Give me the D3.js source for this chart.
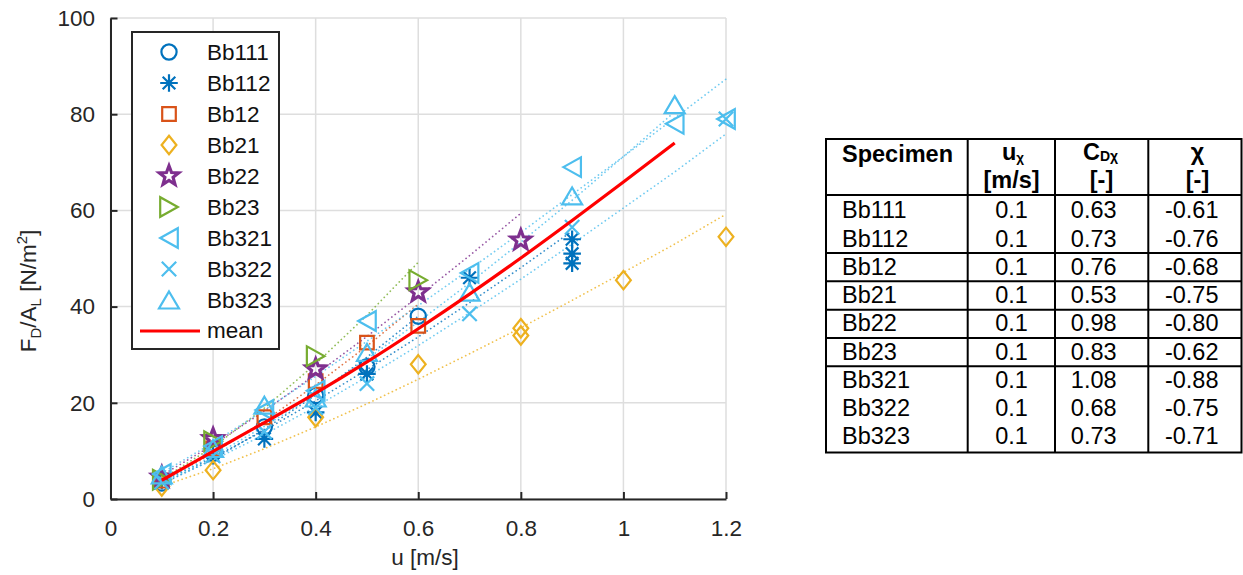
<!DOCTYPE html>
<html><head><meta charset="utf-8">
<script src="https://cdn.jsdelivr.net/npm/d3@7"></script>
<style>
html,body{margin:0;padding:0;background:#fff;}
svg{display:block;}
text{font-family:"Liberation Sans",Arial,Helvetica,sans-serif;}
</style></head><body>
<svg id="c" width="1243" height="575"></svg>
<script>
// ---------- data ----------
const xTicks = [0, 0.2, 0.4, 0.6, 0.8, 1, 1.2];
const yTicks = [0, 20, 40, 60, 80, 100];
const specimens = ["Bb111","Bb112","Bb12","Bb21","Bb22","Bb23","Bb321","Bb322","Bb323"];

// measured points (u [m/s], F_D/A_L [N/m2])
const bb111U = [0.1,0.2,0.3,0.4,0.5,0.6];
const bb111V = [3.3,9.5,15,21.5,27.5,38];
const bb112U = [0.1,0.2,0.3,0.4,0.5,0.7,0.9,0.9,0.9];
const bb112V = [3.8,9,12.5,18,26,46,54,51,49];
const bb12U  = [0.1,0.2,0.3,0.4,0.5,0.6];
const bb12V  = [3.8,10.5,17,24.5,32.5,36];
const bb21U  = [0.1,0.2,0.4,0.6,0.8,0.8,1.0,1.2];
const bb21V  = [2.6,6,17,28,35.5,34,45.5,54.5];
const bb22U  = [0.1,0.2,0.4,0.6,0.8];
const bb22V  = [4.5,12.5,27,43,53.8];
const bb23U  = [0.1,0.2,0.4,0.6];
const bb23V  = [4,12,29.7,45.5];
const bb321U = [0.1,0.2,0.3,0.4,0.5,0.7,0.9,1.1,1.2];
const bb321V = [5.2,11,18.5,22.5,37,47,69,78,79];
const bb322U = [0.1,0.2,0.3,0.4,0.5,0.7,0.9,1.2];
const bb322V = [3.5,9,14,19,24,38.5,56.5,79];
const bb323U = [0.1,0.2,0.3,0.4,0.5,0.7,0.9,1.1];
const bb323V = [5,10.5,19.5,21,30.5,43,63,82];

// dotted fitted curves, values read at u = 0.1, 0.2, ... (as far as drawn)
const fitU = [0.1,0.2,0.3,0.4,0.5,0.6,0.7,0.8,0.9,1.0,1.1,1.2];
const fit111 = [3.15,8.26,14.5,21.6,29.5,38.0];
const fit112 = [3.65,8.62,14.25,20.4,26.9,33.7,40.8,48.1,55.7];
const fit12  = [3.8,9.49,16.2,23.7,31.8,40.5];
const fit21  = [2.65,6.30,10.46,14.99,19.8,24.9,30.2,35.6,41.3,47.1,53.0,59.2];
const fit22  = [4.9,11.26,18.3,25.9,33.8,42.1,50.6,59.4];
const fit23  = [4.15,10.8,18.9,28.1,38.2,49.2];
const fit321 = [5.4,11.7,18.5,25.5,32.8,40.2,47.7,55.4,63.3,71.2,79.2,87.3];
const fit322 = [3.4,8.09,13.4,19.2,25.4,31.9,38.7,45.7,53.0,60.5,68.0,75.9];
const fit323 = [3.65,8.92,15.1,21.8,29.1,36.8,44.9,53.4,62.1,71.2,80.5];

// mean curve
const meanU = [0.1,0.2,0.3,0.4,0.5,0.6,0.7,0.8,0.9,1.0,1.1];
const meanV = [3.9,9.9,15.9,22.0,28.5,35.4,42.6,50.1,57.9,65.9,74];

// table
const tableUchi = [0.1,0.1,0.1,0.1,0.1,0.1,0.1,0.1,0.1];
const tableCD   = [0.63,0.73,0.76,0.53,0.98,0.83,1.08,0.68,0.73];
const tableChi  = [-0.61,-0.76,-0.68,-0.75,-0.80,-0.62,-0.88,-0.75,-0.71];
const tableGroupSizes = [2,1,1,1,1,3];

// ---------- styles ----------
const markers = ["circle","asterisk","square","diamond","star","triRight","triLeft","cross","triUp"];
const colors = ["#0072BD","#0072BD","#D95319","#EDB120","#7E2F8E","#77AC30","#4DBEEE","#4DBEEE","#4DBEEE"];
const seriesU = [bb111U,bb112U,bb12U,bb21U,bb22U,bb23U,bb321U,bb322U,bb323U];
const seriesV = [bb111V,bb112V,bb12V,bb21V,bb22V,bb23V,bb321V,bb322V,bb323V];
const fits = [fit111,fit112,fit12,fit21,fit22,fit23,fit321,fit322,fit323];

const svg = d3.select("#c");
const xS = d3.scaleLinear().domain([0,1.2]).range([110.5,726]);
const yS = d3.scaleLinear().domain([0,100]).range([499,18]);
const axisCol = "#262626";
const plotFont = "22.5px";

function starPath(R, r){
  let p = "";
  for (let i=0;i<10;i++){
    const a = -Math.PI/2 + i*Math.PI/5;
    const rr = i%2===0 ? R : r;
    p += (i===0?"M":"L") + (rr*Math.cos(a)).toFixed(2) + "," + (rr*Math.sin(a)).toFixed(2);
  }
  return p + "Z";
}
const markerPaths = {
  square: "M-6.8,-6.8L6.8,-6.8L6.8,6.8L-6.8,6.8Z",
  diamond: "M0,-9.2L7.4,0L0,9.2L-7.4,0Z",
  star: starPath(10.2,4.3),
  triRight: "M8.8,0L-8.8,-9.8L-8.8,9.8Z",
  triLeft: "M-8.8,0L8.8,-9.8L8.8,9.8Z",
  triUp: "M0,-8.5L10,8.5L-10,8.5Z",
  cross: "M-7.2,-7.2L7.2,7.2M-7.2,7.2L7.2,-7.2",
  asterisk: "M0,-8.8L0,8.8M-8.8,0L8.8,0M-6.3,-6.3L6.3,6.3M-6.3,6.3L6.3,-6.3"
};
function drawMarker(g, type, cx, cy, color){
  if (type === "circle"){
    g.append("circle").attr("cx",cx).attr("cy",cy).attr("r",7.6)
      .attr("fill","none").attr("stroke",color).attr("stroke-width",2.2);
  } else {
    g.append("path").attr("d",markerPaths[type]).attr("transform",`translate(${cx},${cy})`)
      .attr("fill","none").attr("stroke",color).attr("stroke-width",type==="star"?3.2:2.2)
      .attr("stroke-linejoin","miter");
  }
}

// ---------- grid ----------
const grid = svg.append("g");
xTicks.forEach(t => grid.append("line").attr("x1",xS(t)).attr("x2",xS(t)).attr("y1",yS(0)).attr("y2",yS(100))
  .attr("stroke","#dedede").attr("stroke-width",1.5));
yTicks.forEach(t => grid.append("line").attr("x1",xS(0)).attr("x2",xS(1.2)).attr("y1",yS(t)).attr("y2",yS(t))
  .attr("stroke","#dedede").attr("stroke-width",1.5));

// ---------- fits (dotted) ----------
const line = d3.line().x(d=>xS(d[0])).y(d=>yS(d[1]));
const fitG = svg.append("g");
fits.forEach((f,i) => {
  fitG.append("path").attr("d", line(f.map((v,j)=>[fitU[j],v])))
    .attr("fill","none").attr("stroke",colors[i]).attr("stroke-width",1.7)
    .attr("stroke-dasharray","0.1,4.2").attr("stroke-linecap","round").attr("opacity",0.8);
});

// ---------- markers ----------
const mG = svg.append("g");
seriesU.forEach((us,i) => {
  us.forEach((u,j) => drawMarker(mG, markers[i], xS(u), yS(seriesV[i][j]), colors[i]));
});

// ---------- mean ----------
svg.append("path").attr("d", line.curve(d3.curveMonotoneX)(meanU.map((u,j)=>[u,meanV[j]])))
  .attr("fill","none").attr("stroke","#FF0000").attr("stroke-width",3.2);
line.curve(d3.curveLinear);

// ---------- axes ----------
const fmt = d => String(+d.toFixed(1));
const xAx = svg.append("g").attr("transform",`translate(0,${yS(0)})`)
  .call(d3.axisBottom(xS).tickValues(xTicks).tickFormat(fmt).tickSizeInner(-7).tickSizeOuter(0).tickPadding(21));
const yAx = svg.append("g").attr("transform",`translate(${xS(0)},0)`)
  .call(d3.axisLeft(yS).tickValues(yTicks).tickFormat(d=>String(d)).tickSizeInner(-7).tickSizeOuter(0).tickPadding(15.5));
[xAx,yAx].forEach(a => {
  a.select(".domain").attr("stroke",axisCol).attr("stroke-width",2);
  a.selectAll(".tick line").attr("stroke",axisCol).attr("stroke-width",2);
  a.selectAll(".tick text").attr("fill",axisCol).style("font-size",plotFont)
    .style("font-family","'Liberation Sans',Arial,sans-serif");
});

// axis titles
svg.append("text").attr("x",425).attr("y",565).attr("text-anchor","middle")
  .attr("fill",axisCol).style("font-size",plotFont).text("u [m/s]");
const yt = svg.append("text").attr("transform","translate(36,291) rotate(-90)")
  .attr("text-anchor","middle").attr("fill",axisCol).style("font-size",plotFont);
yt.append("tspan").text("F");
yt.append("tspan").attr("dy",5).style("font-size","15px").text("D");
yt.append("tspan").attr("dy",-5).text("/A");
yt.append("tspan").attr("dy",5).style("font-size","15px").text("L");
yt.append("tspan").attr("dy",-5).text(" [N/m");
yt.append("tspan").attr("dy",-9).style("font-size","15px").text("2");
yt.append("tspan").attr("dy",9).text("]");

// ---------- legend ----------
const lg = svg.append("g");
lg.append("rect").attr("x",132).attr("y",32).attr("width",147).attr("height",317)
  .attr("fill","#fff").attr("stroke",axisCol).attr("stroke-width",2);
specimens.forEach((s,i) => {
  const cy = 52 + i*31;
  drawMarker(lg, markers[i], 169, cy, colors[i]);
  lg.append("text").attr("x",207).attr("y",cy).attr("dy","0.36em").attr("fill","#111")
    .style("font-size",plotFont).text(s);
});
{
  const cy = 52 + 9*31;
  lg.append("line").attr("x1",140).attr("x2",200).attr("y1",cy).attr("y2",cy)
    .attr("stroke","#FF0000").attr("stroke-width",3.2);
  lg.append("text").attr("x",207).attr("y",cy).attr("dy","0.30em").attr("fill","#111")
    .style("font-size",plotFont).text("mean");
}

// ---------- table ----------
const tb = svg.append("g");
const tL = 826, tR = 1241.5, tT = 139, tB = 452.5, hB = 195;
const colX = [tL, 967.7, 1055, 1148.3, tR];
const rowPitch = 28.25, firstBase = 218.3;
const lineW = 2;
tb.append("rect").attr("x",tL).attr("y",tT).attr("width",tR-tL).attr("height",tB-tT)
  .attr("fill","none").attr("stroke","#000").attr("stroke-width",lineW);
colX.slice(1,4).forEach(x => tb.append("line").attr("x1",x).attr("x2",x).attr("y1",tT).attr("y2",tB)
  .attr("stroke","#000").attr("stroke-width",lineW));
tb.append("line").attr("x1",tL).attr("x2",tR).attr("y1",hB).attr("y2",hB).attr("stroke","#000").attr("stroke-width",lineW);
let acc = 0;
tableGroupSizes.slice(0,-1).forEach(n => {
  acc += n;
  const yy = hB + acc*rowPitch + 1.5 + (acc-1)*0.05;
  tb.append("line").attr("x1",tL).attr("x2",tR).attr("y1",yy).attr("y2",yy).attr("stroke","#000").attr("stroke-width",lineW);
});
const tfs = "23.5px";
// header
tb.append("text").attr("x",842).attr("y",161.5).attr("font-weight","bold").style("font-size",tfs).attr("fill","#000").text("Specimen");
const h2 = tb.append("text").attr("x",1013).attr("y",160).attr("text-anchor","middle").attr("font-weight","bold").style("font-size",tfs).attr("fill","#000");
h2.append("tspan").text("u");
h2.append("tspan").attr("dy",2).style("font-size","13.5px").text("χ");
tb.append("text").attr("x",1011.5).attr("y",188).attr("text-anchor","middle").attr("font-weight","bold").style("font-size",tfs).attr("fill","#000").text("[m/s]");
const h3 = tb.append("text").attr("x",1100.5).attr("y",160).attr("text-anchor","middle").attr("font-weight","bold").style("font-size",tfs).attr("fill","#000");
h3.append("tspan").text("C");
h3.append("tspan").attr("dy",1).style("font-size","14px").text("Dχ");
tb.append("text").attr("x",1101.5).attr("y",188).attr("text-anchor","middle").attr("font-weight","bold").style("font-size",tfs).attr("fill","#000").text("[-]");
tb.append("text").attr("x",1197.5).attr("y",160).attr("text-anchor","middle").attr("font-weight","bold").style("font-size",tfs).attr("fill","#000").text("χ");
tb.append("text").attr("x",1197.5).attr("y",188).attr("text-anchor","middle").attr("font-weight","bold").style("font-size",tfs).attr("fill","#000").text("[-]");
// rows
specimens.forEach((s,i) => {
  const yy = firstBase + i*rowPitch;
  tb.append("text").attr("x",842).attr("y",yy).style("font-size",tfs).attr("fill","#000").text(s);
  tb.append("text").attr("x",1011.5).attr("y",yy).attr("text-anchor","middle").style("font-size",tfs).attr("fill","#000").text(d3.format(".1f")(tableUchi[i]));
  tb.append("text").attr("x",1093.7).attr("y",yy).attr("text-anchor","middle").style("font-size",tfs).attr("fill","#000").text(d3.format(".2f")(tableCD[i]));
  tb.append("text").attr("x",1191.7).attr("y",yy).attr("text-anchor","middle").style("font-size",tfs).attr("fill","#000").text(d3.format(".2f")(tableChi[i]).replace("−","-"));
});
</script>
</body></html>
